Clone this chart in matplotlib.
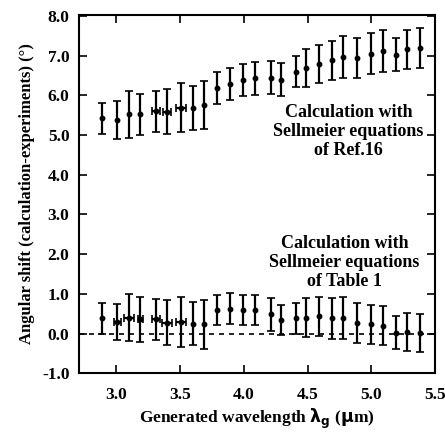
import matplotlib
matplotlib.use('Agg')
import matplotlib.pyplot as plt

plt.rcParams['font.family'] = ['Liberation Serif', 'DejaVu Serif']
plt.rcParams['font.weight'] = 'bold'
plt.rcParams['axes.labelweight'] = 'bold'
plt.rcParams['mathtext.default'] = 'bf'

# ---------------------------------------------------------------
# wavelengths (um)
wl = [2.89, 3.01, 3.10, 3.19, 3.31, 3.40, 3.51, 3.60, 3.69, 3.79, 3.89, 3.99, 4.09,
      4.21, 4.29, 4.41, 4.49, 4.59, 4.69, 4.78, 4.89, 5.00, 5.09, 5.19, 5.28, 5.38]

# Sellmeier equations of Ref.16
shift_ref16 = [5.42, 5.37, 5.52, 5.52, 5.60, 5.59, 5.69, 5.69, 5.76, 6.18, 6.29, 6.38, 6.43,
               6.45, 6.40, 6.60, 6.70, 6.80, 6.88, 6.97, 6.95, 7.05, 7.12, 7.03, 7.16, 7.20]
err_ref16 = [0.40, 0.48, 0.60, 0.52, 0.52, 0.57, 0.62, 0.55, 0.60, 0.40, 0.40, 0.40, 0.42,
             0.42, 0.42, 0.40, 0.48, 0.48, 0.50, 0.52, 0.50, 0.52, 0.52, 0.42, 0.50, 0.50]
xerr_ref16 = [0, 0, 0, 0, 0.03, 0.03, 0.04, 0, 0, 0, 0, 0, 0,
              0, 0, 0, 0, 0, 0, 0, 0, 0, 0, 0, 0, 0]

# Sellmeier equations of Table 1
shift_tab1 = [0.38, 0.29, 0.40, 0.36, 0.36, 0.27, 0.29, 0.25, 0.23, 0.59, 0.63, 0.59, 0.59,
              0.48, 0.34, 0.38, 0.40, 0.43, 0.38, 0.39, 0.27, 0.23, 0.20, 0.02, 0.03, 0.02]
err_tab1 = [0.40, 0.46, 0.60, 0.57, 0.52, 0.57, 0.63, 0.55, 0.62, 0.38, 0.39, 0.38, 0.38,
            0.42, 0.37, 0.40, 0.50, 0.50, 0.52, 0.53, 0.50, 0.50, 0.50, 0.42, 0.48, 0.48]
xerr_tab1 = [0, 0.03, 0.04, 0.02, 0.03, 0.04, 0.04, 0, 0, 0, 0, 0, 0,
             0, 0, 0, 0, 0, 0, 0, 0, 0, 0, 0, 0, 0]

x_ticks = [3.0, 3.5, 4.0, 4.5, 5.0, 5.5]
y_ticks = [-1, 0, 1, 2, 3, 4, 5, 6, 7, 8]

# ---------------------------------------------------------------

fig = plt.figure(figsize=(4.45, 4.36), dpi=100)
ax = fig.add_axes([0.178, 0.144, 0.80, 0.822])

for y, e, xe in [(shift_ref16, err_ref16, xerr_ref16), (shift_tab1, err_tab1, xerr_tab1)]:
    ax.errorbar(wl, y, yerr=e, xerr=xe, fmt='o', color='black', ms=3.2,
                elinewidth=1.6, capsize=3, capthick=1.2)

ax.axhline(0, color='black', lw=1.2, ls=(0, (3, 3)))

ax.text(4.82, 5.08, 'Calculation with\nSellmeier equations\nof Ref.16',
        ha='center', va='center', fontsize=13, fontweight='bold', linespacing=1.15)
ax.text(4.79, 1.78, 'Calculation with\nSellmeier equations\nof Table 1',
        ha='center', va='center', fontsize=13, fontweight='bold', linespacing=1.15)

ax.set_xlim(2.71, 5.47)
ax.set_ylim(-1, 8.03)
ax.set_xticks(x_ticks)
ax.set_yticks(y_ticks)
ax.set_xticklabels([f'{t:.1f}' for t in x_ticks], fontsize=12.5, fontweight='bold')
ax.set_yticklabels([f'{t:.1f}' for t in y_ticks], fontsize=12.5, fontweight='bold')
ax.tick_params(direction='in', top=True, right=True, length=6, width=1.2, pad=7)
ax.tick_params(axis='x', pad=10)
for s in ax.spines.values():
    s.set_linewidth(1.5)

ax.set_xlabel('Generated wavelength $\\lambda_g$ ($\\mu$m)', fontsize=12.5, labelpad=3)
ax.set_ylabel('Angular shift (calculation-experiments) (°)', fontsize=12, labelpad=5)

fig.savefig('out.png', dpi=100)
